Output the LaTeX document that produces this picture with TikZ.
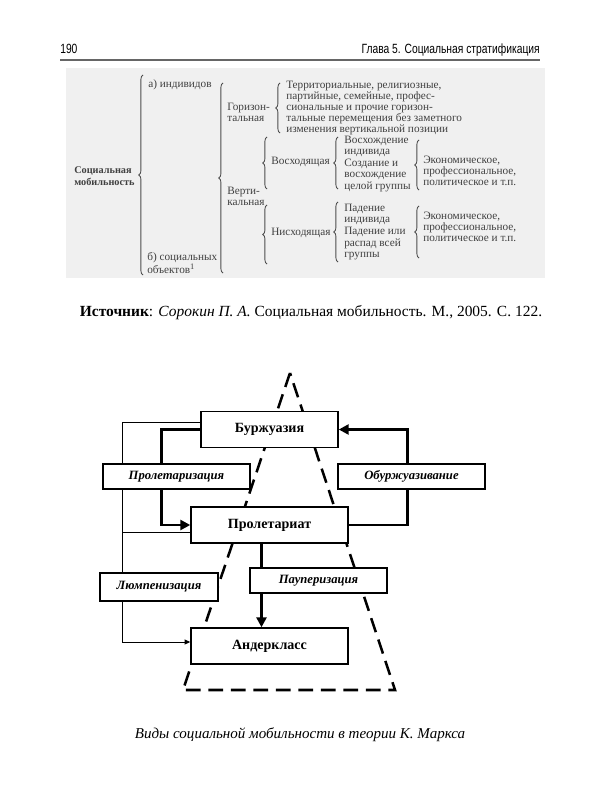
\documentclass[tikz,border=0pt]{standalone}
\usepackage{fontspec}
\setmainfont{Liberation Serif}
\newfontfamily\hdrfont[FakeStretch=0.77]{Liberation Sans}
\usetikzlibrary{arrows.meta,positioning,calc,decorations.pathreplacing,backgrounds}

\begin{document}
\begin{tikzpicture}[x=0.025cm,y=-0.025cm,
  scan/.style={font=\fontsize{8}{7.7}\selectfont, text=black!75, align=left, anchor=west, inner sep=0pt},
  brc/.style={decorate, decoration={brace, amplitude=3pt}, black!70, semithick},
  cls/.style={draw, line width=1pt, fill=white, font=\fontsize{10}{12}\selectfont\bfseries, minimum height=0.9cm, inner sep=0pt},
  proc/.style={draw, line width=1pt, fill=white, font=\fontsize{9}{11}\selectfont\bfseries\itshape, minimum height=0.625cm, inner sep=0pt},
  fat/.style={line width=1.8pt, -{Triangle[length=7pt,width=7pt]}},
  slim/.style={line width=0.7pt}]
\useasboundingbox (0,0) rectangle (600,800);
% Running head
\node[font=\hdrfont\fontsize{9.5}{11}\selectfont, anchor=base west, inner sep=0pt] (page) at (60,54) {190};
\node[font=\hdrfont\fontsize{9.5}{11}\selectfont, anchor=base east, inner sep=0pt] (chap) at (540,54) {Глава 5. Социальная стратификация};
\draw[black!60, line width=1.4pt] (60,60) -- (540,60);
% Scanned scheme
\fill[black!6] (66,68) rectangle (545,278);
\node[scan, font=\fontsize{7.3}{8.6}\selectfont\bfseries] (soc) at (74,176) {Социальная\\мобильность};
\node[scan] (indiv) at (148,85) {а) индивидов};
\node[scan, font=\fontsize{8}{8.4}\selectfont] (obj) at (147,263) {б) социальных\\объектов\textsuperscript{1}};
\node[scan] (hor) at (227,112) {Горизон-\\тальная};
\node[scan] (vert) at (227,196) {Верти-\\кальная};
\node[scan] (hortext) at (286,108) {Территориальные, религиозные,\\партийные, семейные, профес-\\сиональные и прочие горизон-\\тальные перемещения без заметного\\изменения вертикальной позиции};
\node[scan] (up) at (271,162) {Восходящая};
\node[scan, font=\fontsize{8}{8.2}\selectfont] (uptext) at (344,164) {Восхождение\\индивида\\Создание и\\восхождение\\целой группы};
\node[scan] (upkind) at (423,171) {Экономическое,\\профессиональное,\\политическое и т.п.};
\node[scan] (down) at (271,233) {Нисходящая};
\node[scan, font=\fontsize{8}{8.2}\selectfont] (downtext) at (344,232) {Падение\\индивида\\Падение или\\распад всей\\группы};
\node[scan] (downkind) at (423,227) {Экономическое,\\профессиональное,\\политическое и т.п.};
% braces: x / top / bottom
\foreach \x/\a/\b in {143/75/275, 223/83/273, 280/83/133, 267/137/189, 338/137/189,
                      419/140/190, 267/205/264, 338/202/262, 419/206/258} {
  \draw[brc] (\x,\b) -- (\x,\a);
}
\node[font=\fontsize{11}{13}\selectfont] (src) at (311,313)
  {\textbf{Источник}: \textit{Сорокин П. А.} Социальная мобильность. М., 2005. С. 122.};
% Classes and processes
\node[cls, minimum width=3.425cm] (burzh) at (269.5,429.5) {Буржуазия};
\node[cls, minimum width=3.925cm] (prol) at (269.5,525) {Пролетариат};
\node[cls, minimum width=3.925cm] (under) at (269.5,646) {Андеркласс};
\node[proc, minimum width=3.675cm] (proletar) at (176.5,476.5) {Пролетаризация};
\node[proc, minimum width=3.675cm] (oburzh) at (411.5,476.5) {Обуржуазивание};
\node[proc, minimum width=2.95cm, minimum height=0.7cm] (lumpen) at (159,587) {Люмпенизация};
\node[proc, minimum width=3.425cm] (pauper) at (318.5,580.5) {Пауперизация};
\begin{scope}[on background layer]
% Pyramid
\draw[line width=1.8pt, dash pattern=on 10.5pt off 5.5pt] (290,373) -- (183,690) -- (395,690) -- cycle;
% Connectors
\draw[slim, -{Triangle[length=4pt,width=3.5pt]}] ($(burzh.west)+(0,-7)$) -- ++(-78,0) |- ($(under.west)+(0,-4)$);
\draw[slim] ($(prol.west)+(0,7)$) -- ++(-68,0);
\draw[fat] (burzh.west) -- ++(-39,0) |- (prol.west);
\draw[fat] (prol.east) -- ++(59,0) |- (burzh.east);
\draw[fat] ($(prol.south)+(-8,0)$) -- ($(under.north)+(-8,0)$);
\end{scope}
\node[font=\fontsize{10.7}{13}\selectfont\itshape] (capt) at (300,735) {Виды социальной мобильности в теории К. Маркса};
\end{tikzpicture}
\end{document}
